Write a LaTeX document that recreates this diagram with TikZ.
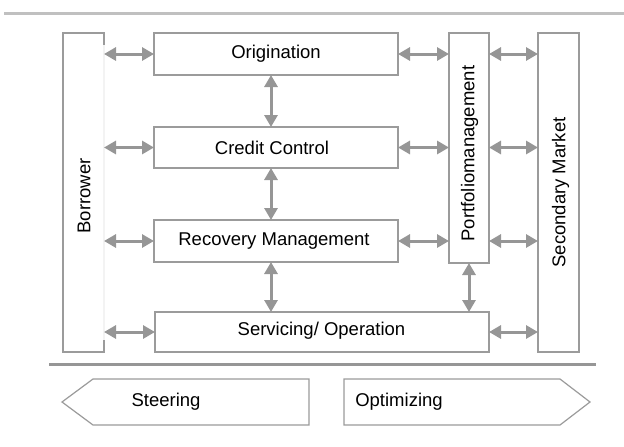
\documentclass[tikz,border=0pt]{standalone}
\usepackage{fontspec}
\setmainfont{Liberation Sans}
\usetikzlibrary{arrows.meta}
\definecolor{edgegray}{RGB}{155,155,155}
\definecolor{linkgray}{RGB}{150,150,150}
\definecolor{rulelight}{RGB}{192,192,192}
\definecolor{rulemid}{RGB}{150,150,150}

\begin{document}
\begin{tikzpicture}[x=1pt,y=-1pt,
  box/.style={draw=edgegray, line width=1.3pt, fill=white, inner sep=0pt, outer sep=0pt},
  lbl/.style={font=\fontsize{18.5}{22}\selectfont, text=black, inner sep=0pt},
  link/.style={draw=linkgray, line width=3pt,
    {Triangle[length=12pt,width=13pt]}-{Triangle[length=12pt,width=13pt]}},
  band/.style={draw=edgegray, line width=1.2pt, fill=white}]
  \useasboundingbox (0,0) rectangle (624,447);

  % horizontal rules
  \draw[rulelight, line width=3.5pt] (4,13.5) -- (624,13.5);
  \draw[rulemid, line width=3pt] (49,364) -- (596,364);

  % side columns
  \node[box, minimum width=41pt, minimum height=319pt] (borrower) at (83.5,192.5) {};
  \draw[draw=white!88!edgegray, line width=1.3pt]
    ([yshift=-12pt]borrower.north east) -- ([yshift=12pt]borrower.south east);
  \node[lbl, rotate=90] (borrowerlbl) at (84,196) {Borrower};

  \node[box, minimum width=40pt, minimum height=230pt] (portfolio) at (469,148) {};
  \node[lbl, rotate=90] (portfoliolbl) at (469.5,153.5) {Portfoliomanagement};

  \node[box, minimum width=41pt, minimum height=319pt] (secondary) at (558.5,192.5) {};
  \node[lbl, rotate=90] (secondarylbl) at (560.5,192.5) {Secondary Market};

  % process boxes
  \node[box, minimum width=244pt, minimum height=42pt] (orig) at (276,54) {};
  \node[lbl] (origlbl) at (276,54) {Origination};
  \node[box, minimum width=244pt, minimum height=41pt] (credit) at (276,147.5) {};
  \node[lbl] (creditlbl) at (272,147.5) {Credit Control};
  \node[box, minimum width=244pt, minimum height=42pt] (recovery) at (276,241) {};
  \node[lbl] (recoverylbl) at (274,241) {Recovery Management};
  \node[box, minimum width=334pt, minimum height=40pt] (servicing) at (322,332) {};
  \node[lbl] (servicinglbl) at (321.5,331) {Servicing/ Operation};

  % horizontal links
  \foreach \b in {orig,credit,recovery,servicing}
    \draw[link] (borrower.east |- \b.west) -- (\b.west);
  \foreach \b in {orig,credit,recovery}{
    \draw[link] (\b.east) -- (portfolio.west |- \b.east);
    \draw[link] (portfolio.east |- \b.east) -- (secondary.west |- \b.east);
  }
  \draw[link] (servicing.east) -- (secondary.west |- servicing.east);

  % vertical links
  \draw[link] ([xshift=-5pt]orig.south) -- ([xshift=-5pt]credit.north);
  \draw[link] ([xshift=-5pt]credit.south) -- ([xshift=-5pt]recovery.north);
  \draw[link] ([xshift=-5pt]recovery.south) -- ([xshift=-51pt]servicing.north);
  \draw[link] (portfolio.south) -- (portfolio.south |- servicing.north);

  % steering / optimizing bands
  \draw[band] (62,402) -- (93,379) -- (309,379) -- (309,425) -- (93,425) -- cycle;
  \node[lbl] (steering) at (166,402) {Steering};
  \draw[band] (344,379) -- (560,379) -- (590,402) -- (560,425) -- (344,425) -- cycle;
  \node[lbl] (optimizing) at (399,402) {Optimizing};
\end{tikzpicture}
\end{document}
